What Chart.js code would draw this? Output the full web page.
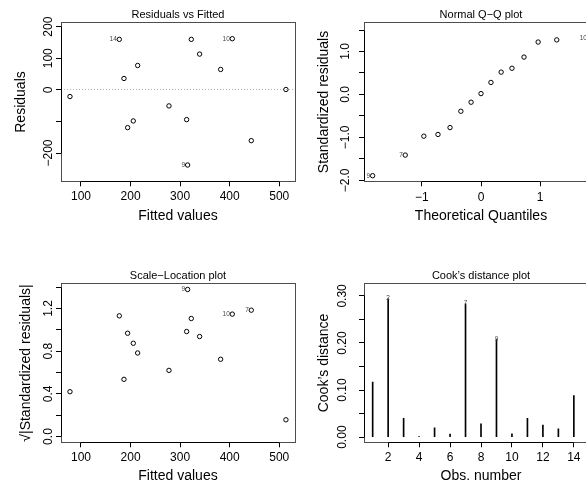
<!DOCTYPE html>
<html>
<head>
<meta charset="utf-8">
<title>lm diagnostic plots</title>
<script src="https://cdn.jsdelivr.net/npm/chart.js@4.4.1/dist/chart.umd.min.js"></script>
<style>
  body { margin: 0; background: #fff; }
  #wrap { position: relative; width: 586px; height: 491px; overflow: hidden; background: #fff; }
  #wrap canvas { position: absolute; }
</style>
</head>
<body>
<div id="wrap">
  <canvas id="rvf" width="303" height="261" style="left:0;top:0"></canvas>
  <canvas id="qq" width="303" height="261" style="left:303px;top:0"></canvas>
  <canvas id="sl" width="303" height="261" style="left:0;top:261px"></canvas>
  <canvas id="cook" width="303" height="261" style="left:303px;top:261px"></canvas>
</div>
<script>
var fitted = [77.8, 177.3, 186.7, 194.1, 205.5, 214.3, 277.5, 313.1, 315.1, 322.5, 339.3, 381.7, 405.2, 443.5, 513.4];
var residuals = [-21.2, 159.8, 36.0, -119.6, -98.4, 77.2, -50.8, -94.2, -238.0, 159.8, 113.2, 64.6, 161.9, -160.8, 1.1];
var residTags = ['', '14', '', '', '', '', '', '', '9', '', '', '', '10', '', ''];
var sqrtStdResid = [0.42, 1.131, 0.536, 0.968, 0.874, 0.783, 0.62, 0.984, 1.378, 1.106, 0.937, 0.724, 1.147, 1.184, 0.157];
var scaleTags = ['', '', '', '', '', '', '', '', '9', '', '', '', '10', '7', ''];

// normal Q-Q: theoretical quantiles vs sorted standardized residuals
var theoQuant = [-1.834, -1.282, -0.967, -0.728, -0.524, -0.341, -0.168, 0, 0.168, 0.341, 0.524, 0.728, 0.967, 1.282, 1.834];
var stdResidSorted = [-1.89, -1.41, -0.97, -0.93, -0.77, -0.39, -0.18, 0.02, 0.28, 0.52, 0.61, 0.87, 1.22, 1.27, 1.31];
var qqTags = ['9', '7', '', '', '', '', '', '', '', '', '', '', '', '', '10'];

// Cook's distance by observation number
var obsNo = [1, 2, 3, 4, 5, 6, 7, 8, 9, 10, 11, 12, 13, 14, 15];
var cooksD = [0.117, 0.294, 0.040, 0.0014, 0.020, 0.0064, 0.283, 0.028, 0.207, 0.007, 0.040, 0.0255, 0.0177, 0.0885, 0.010];
var cookTags = ['', '2', '', '', '', '', '7', '', '9', '', '', '', '', '', ''];

// tick positions and their labels (blank = tick without label, as R drops them)
var fittedTicks = [100, 200, 300, 400, 500];
var fittedTickLabels = ['100', '200', '300', '400', '500'];
var residTicks = [-200, -100, 0, 100, 200];
var residTickLabels = ['\u2212200', '', '0', '100', '200'];
var qqXTicks = [-1, 0, 1];
var qqXTickLabels = ['\u22121', '0', '1'];
var qqYTicks = [-2, -1.5, -1, -0.5, 0, 0.5, 1, 1.5];
var qqYTickLabels = ['\u22122.0', '', '\u22121.0', '', '0.0', '', '1.0', ''];
var slYTicks = [0, 0.2, 0.4, 0.6, 0.8, 1.0, 1.2, 1.4];
var slYTickLabels = ['0.0', '', '0.4', '', '0.8', '', '1.2', ''];
var obsTicks = [2, 4, 6, 8, 10, 12, 14];
var obsTickLabels = ['2', '4', '6', '8', '10', '12', '14'];
var cookYTicks = [0, 0.05, 0.10, 0.15, 0.20, 0.25, 0.30];
var cookYTickLabels = ['0.00', '', '0.10', '', '0.20', '', '0.30'];

var FONT = '"Liberation Sans", Arial, Helvetica, sans-serif';
var W = 303, H = 261;
var BOX = { left: 61, right: 295, top: 22.7, bottom: 181.3 };

Chart.defaults.font.family = FONT;
Chart.defaults.color = '#000';

var measure = document.createElement('canvas').getContext('2d');
function widest(labels) {
    measure.font = '12px ' + FONT;
    var w = 0;
    labels.forEach(function (t) { w = Math.max(w, measure.measureText(t).width); });
    return w;
}

function px(v) { return Math.round(v - 0.5) + 0.5; }

// box, R-style axis lines, panel title and the small observation tags
var framePlugin = {
    id: 'frame',
    afterDraw: function (chart, args, opts) {
        var ctx = chart.ctx, a = chart.chartArea;
        var xs = chart.scales.x, ys = chart.scales.y;
        ctx.save();
        ctx.lineWidth = 1;
        ctx.strokeStyle = '#4d4d4d';
        ctx.strokeRect(px(a.left), px(a.top), px(a.right) - px(a.left), px(a.bottom) - px(a.top));

        ctx.strokeStyle = '#000';
        ctx.beginPath();
        ctx.moveTo(px(xs.getPixelForValue(xs.ticks[0].value)), px(a.bottom));
        ctx.lineTo(px(xs.getPixelForValue(xs.ticks[xs.ticks.length - 1].value)), px(a.bottom));
        ctx.moveTo(px(a.left), px(ys.getPixelForValue(ys.ticks[0].value)));
        ctx.lineTo(px(a.left), px(ys.getPixelForValue(ys.ticks[ys.ticks.length - 1].value)));
        ctx.stroke();

        ctx.fillStyle = '#000';
        ctx.font = '11px ' + FONT;
        ctx.textAlign = 'center';
        ctx.textBaseline = 'alphabetic';
        ctx.fillText(opts.title, (a.left + a.right) / 2, a.top - 5);

        var meta = chart.getDatasetMeta(0);
        ctx.font = '6.5px ' + FONT;
        ctx.fillStyle = '#444';
        ctx.textBaseline = 'middle';
        (opts.tags || []).forEach(function (t, i) {
            if (!t) return;
            var el = meta.data[i];
            if (opts.tagMode === 'top') {
                ctx.textAlign = 'center';
                ctx.fillText(t, el.x, el.y - 1);
            } else {
                ctx.textAlign = 'right';
                ctx.fillText(t, el.x - 2.5, el.y);
            }
        });
        ctx.restore();
    }
};

function fixedTicks(values) {
    return function (scale) {
        scale.ticks = values.map(function (v) { return { value: v }; });
    };
}

function panel(id, o) {
    var yPad = BOX.left - 5 - o.yLabelX - widest(o.yLabels) / 2;
    var xPad = o.xLabelY - BOX.bottom - 5 - 7.2;
    var dataset = {
        data: o.xs.map(function (x, i) { return { x: x, y: o.ys[i] }; })
    };
    if (o.type === 'bar') {
        dataset.backgroundColor = '#000';
        dataset.barThickness = 1;
    } else {
        dataset.pointRadius = 2.2;
        dataset.pointBorderWidth = 1;
        dataset.borderColor = '#000';
        dataset.backgroundColor = 'rgba(0,0,0,0)';
        dataset.showLine = false;
    }
    return new Chart(document.getElementById(id), {
        type: o.type,
        data: { datasets: [dataset] },
        options: {
            responsive: false,
            animation: false,
            devicePixelRatio: 1,
            layout: { padding: { left: 0, top: BOX.top, right: W - BOX.right, bottom: 0 } },
            plugins: {
                legend: { display: false },
                tooltip: { enabled: false },
                frame: { title: o.title, tags: o.tags, tagMode: o.tagMode }
            },
            scales: {
                x: {
                    type: 'linear',
                    min: o.xMin,
                    max: o.xMax,
                    offset: false,
                    afterBuildTicks: fixedTicks(o.xTicks),
                    afterFit: function (s) { s.height = H - BOX.bottom; },
                    grid: { offset: false, drawOnChartArea: false, tickLength: 5, color: '#000', tickColor: '#000' },
                    border: { display: false },
                    ticks: {
                        autoSkip: false, minRotation: 0, maxRotation: 0, padding: xPad,
                        font: { size: 12 }, color: '#000',
                        callback: function (v, i) { return o.xLabels[i]; }
                    },
                    title: {
                        display: true, text: o.xTitle, color: '#000',
                        font: { size: 14 }, padding: { top: 0, bottom: H - o.xTitleY - 8.4 }
                    }
                },
                y: {
                    type: 'linear',
                    min: o.yMin,
                    max: o.yMax,
                    afterBuildTicks: fixedTicks(o.yTicks),
                    afterFit: function (s) { s.width = BOX.left; },
                    grid: {
                        drawOnChartArea: !!o.zeroLine,
                        tickLength: 5,
                        tickColor: '#000',
                        color: function (c) {
                            return o.zeroLine && c.tick && c.tick.value === 0 ? '#b3b3b3' : 'rgba(0,0,0,0)';
                        }
                    },
                    border: { display: false, dash: [1, 2] },
                    ticks: {
                        autoSkip: false, minRotation: 90, maxRotation: 90, crossAlign: 'center',
                        padding: yPad, font: { size: 12 }, color: '#000',
                        callback: function (v, i) { return o.yLabels[i]; }
                    },
                    title: {
                        display: true, text: o.yTitle, color: '#000',
                        font: { size: 14 }, padding: { top: o.yTitleX - 8.4, bottom: 0 }
                    }
                }
            }
        },
        plugins: [framePlugin]
    });
}

panel('rvf', {
    type: 'scatter', title: 'Residuals vs Fitted',
    xs: fitted, ys: residuals, tags: residTags, tagMode: 'left', zeroLine: true,
    xMin: 59.7, xMax: 531.7, xTicks: fittedTicks, xLabels: fittedTickLabels, xTitle: 'Fitted values',
    yMin: -289.5, yMax: 212.6, yTicks: residTicks, yLabels: residTickLabels, yTitle: 'Residuals',
    yLabelX: 48.5, yTitleX: 21, xLabelY: 197, xTitleY: 216
});

panel('qq', {
    type: 'scatter', title: 'Normal Q\u2212Q plot',
    xs: theoQuant, ys: stdResidSorted, tags: qqTags, tagMode: 'left',
    xMin: -1.98, xMax: 1.98, xTicks: qqXTicks, xLabels: qqXTickLabels, xTitle: 'Theoretical Quantiles',
    yMin: -2.02, yMax: 1.67, yTicks: qqYTicks, yLabels: qqYTickLabels, yTitle: 'Standardized residuals',
    yLabelX: 43, yTitleX: 21, xLabelY: 198, xTitleY: 216.5
});

panel('sl', {
    type: 'scatter', title: 'Scale\u2212Location plot',
    xs: fitted, ys: sqrtStdResid, tags: scaleTags, tagMode: 'left',
    xMin: 59.7, xMax: 531.7, xTicks: fittedTicks, xLabels: fittedTickLabels, xTitle: 'Fitted values',
    yMin: -0.054, yMax: 1.432, yTicks: slYTicks, yLabels: slYTickLabels, yTitle: '\u221A|Standardized residuals|',
    yLabelX: 48.5, yTitleX: 26, xLabelY: 196.5, xTitleY: 215.5
});

panel('cook', {
    type: 'bar', title: 'Cook\u2019s distance plot',
    xs: obsNo, ys: cooksD, tags: cookTags, tagMode: 'top',
    xMin: 0.44, xMax: 15.56, xTicks: obsTicks, xLabels: obsTickLabels, xTitle: 'Obs. number',
    yMin: -0.011, yMax: 0.326, yTicks: cookYTicks, yLabels: cookYTickLabels, yTitle: 'Cook\u2019s distance',
    yLabelX: 40, yTitleX: 21, xLabelY: 197, xTitleY: 215
});
</script>
</body>
</html>
